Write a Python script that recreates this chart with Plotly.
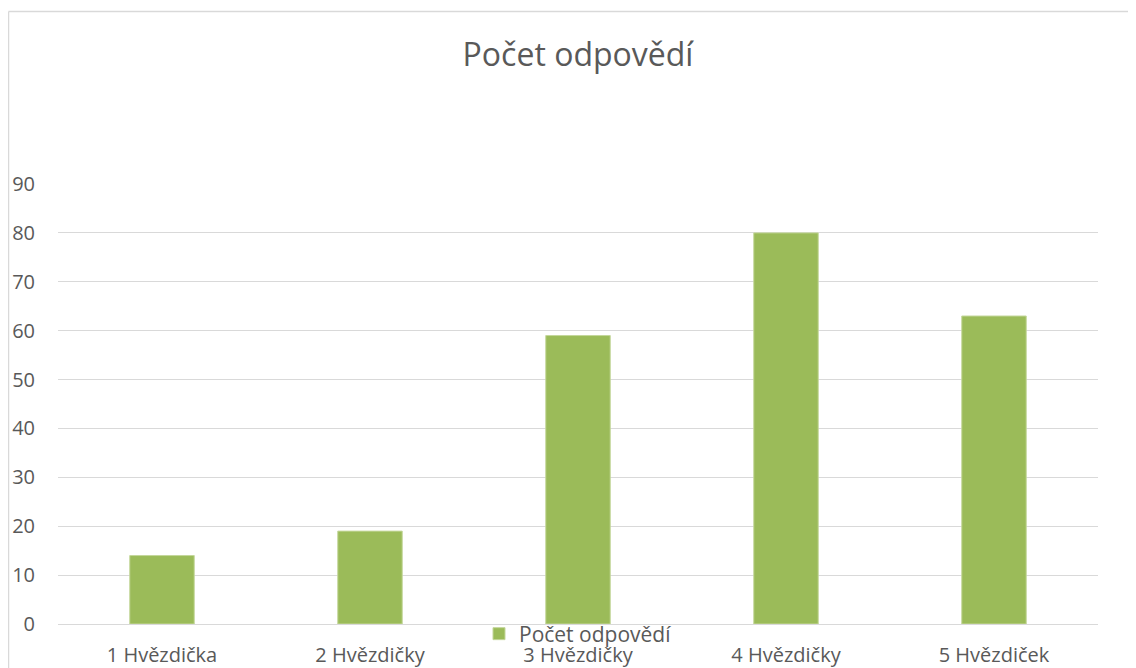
import plotly.graph_objects as go

categories = ["1 Hvězdička", "2 Hvězdičky", "3 Hvězdičky", "4 Hvězdičky", "5 Hvězdiček"]
values = [14, 19, 59, 80, 63]
series_name = "Počet odpovědí"
title_text = "Počet odpovědí"

FONT = "Open Sans"
GRAY = "#595959"

# page is rendered with an 8px body margin; keep the figure inside the
# viewport and place the plot area at page px x 58..1098, y 184..624
OFF = 8
W, H = 1136 - OFF, 668 - OFF
L = 58 - OFF
T = 184 - OFF
R = W + OFF - 1098
B = H + OFF - 624
pw, ph = W - L - R, H - T - B

def px_x(p):
    return (p - OFF - L) / pw

def px_y(p):
    return (H + OFF - B - p) / ph

fig = go.Figure()
fig.add_trace(go.Bar(
    x=categories, y=values, name=series_name,
    marker=dict(color="#9bbb59", line=dict(color="#c4d79b", width=1)),
    width=0.31, showlegend=True,
))

fig.update_layout(
    width=W, height=H,
    margin=dict(l=L, r=R, t=T, b=B, autoexpand=False),
    paper_bgcolor="white", plot_bgcolor="white",
    font=dict(family=FONT, color=GRAY, size=20),
    title=dict(text=title_text, x=0.5, xanchor="center", xref="paper",
               y=1 - (55 - OFF) / H, yanchor="middle", yref="container",
               font=dict(size=32, color=GRAY, family=FONT)),
    showlegend=True,
    legend=dict(orientation="h", x=0.5, xanchor="center", y=px_y(634), yanchor="middle",
                font=dict(size=21, color=GRAY), bgcolor="rgba(0,0,0,0)",
                itemwidth=30),
    xaxis=dict(showgrid=False, zeroline=False, showline=False, automargin=False,
               tickfont=dict(size=20, color=GRAY), ticklabelstandoff=17,
               fixedrange=True),
    yaxis=dict(range=[0, 90], dtick=10, showgrid=True, gridcolor="#d9d9d9", gridwidth=1,
               zeroline=True, zerolinecolor="#d9d9d9", zerolinewidth=1, showline=False,
               automargin=False,
               tickfont=dict(size=20, color=GRAY), ticklabelstandoff=22,
               fixedrange=True),
    shapes=[
        dict(type="line", xref="paper", yref="paper",
             x0=px_x(8.5), x1=px_x(1150), y0=px_y(11.5), y1=px_y(11.5),
             line=dict(color="#d9d9d9", width=1.5)),
        dict(type="line", xref="paper", yref="paper",
             x0=px_x(8.5), x1=px_x(8.5), y0=px_y(11.5), y1=px_y(680),
             line=dict(color="#d9d9d9", width=1.5)),
    ],
)

fig.write_html("out.html")
